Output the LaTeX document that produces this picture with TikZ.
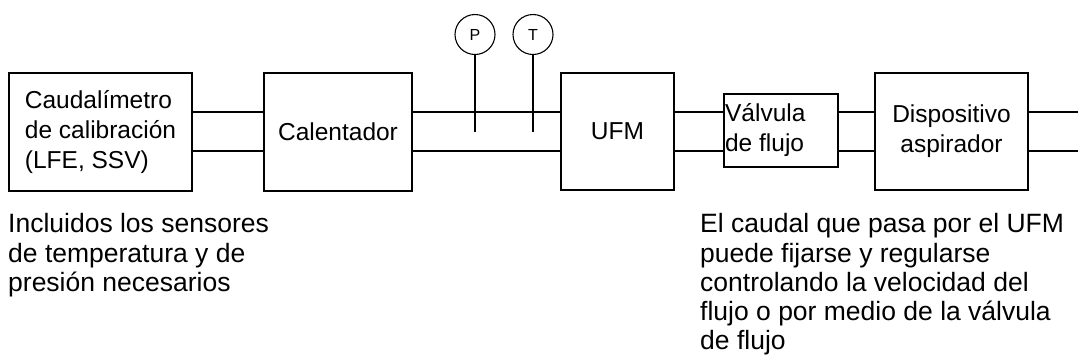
\documentclass[tikz,border=0pt]{standalone}
\usepackage{fontspec}
\setmainfont{Liberation Sans}
\begin{document}
\begin{tikzpicture}[x=1pt,y=-1pt,
  box/.style={draw, line width=1.2pt, inner sep=0pt},
  boxfont/.style={font=\fontsize{24.5}{30}\selectfont},
  pipe/.style={line width=1.2pt},
  gauge/.style={draw, circle, line width=1.1pt, minimum size=40pt, inner sep=0pt, font=\fontsize{16}{18}\selectfont},
  note/.style={anchor=north west, align=left, inner sep=0pt, font=\fontsize{26.5}{29.2}\selectfont}]
\useasboundingbox (0,0) rectangle (1078,360);

\node[box, boxfont, minimum width=183pt, minimum height=118pt, align=left] (cal) at (100.5,132) {Caudalímetro\\de calibración\\(LFE, SSV)};
\node[box, boxfont, minimum width=148pt, minimum height=118pt] (heat) at (338,132) {Calentador};
\node[box, boxfont, minimum width=113pt, minimum height=117pt] (ufm) at (617.5,131.5) {UFM};
\node[box, minimum width=114pt, minimum height=73pt] (val) at (781,130.5) {};
\node[boxfont, anchor=west, align=left, inner sep=1.5pt] (valtxt) at (val.west) {Válvula\\de flujo};
\node[box, boxfont, minimum width=153pt, minimum height=117pt, align=center] (asp) at (951.5,131.5) {Dispositivo\\aspirador};

\node[gauge] (p) at (475,34.5) {P};
\node[gauge] (t) at (533,34.5) {T};
\coordinate (pe) at (475,132);
\coordinate (te) at (533,132);
\draw[pipe] (p.south) -- (pe);
\draw[pipe] (t.south) -- (te);

\coordinate (outu) at (1078,112);
\coordinate (outl) at (1078,151);

\foreach \yy in {112,151} {
  \draw[pipe] (cal.east |- 0,\yy) -- (heat.west |- 0,\yy);
  \draw[pipe] (heat.east |- 0,\yy) -- (ufm.west |- 0,\yy);
  \draw[pipe] (ufm.east |- 0,\yy) -- (val.west |- 0,\yy);
  \draw[pipe] (val.east |- 0,\yy) -- (asp.west |- 0,\yy);
}
\draw[pipe] (asp.east |- outu) -- (outu);
\draw[pipe] (asp.east |- outl) -- (outl);

\node[note] (n1) at (8,213.5) {Incluidos los sensores\\de temperatura y de\\presión necesarios};
\node[note] (n2) at (700,213.5) {El caudal que pasa por el UFM\\puede fijarse y regularse\\controlando la velocidad del\\flujo o por medio de la válvula\\de flujo};
\end{tikzpicture}
\end{document}
